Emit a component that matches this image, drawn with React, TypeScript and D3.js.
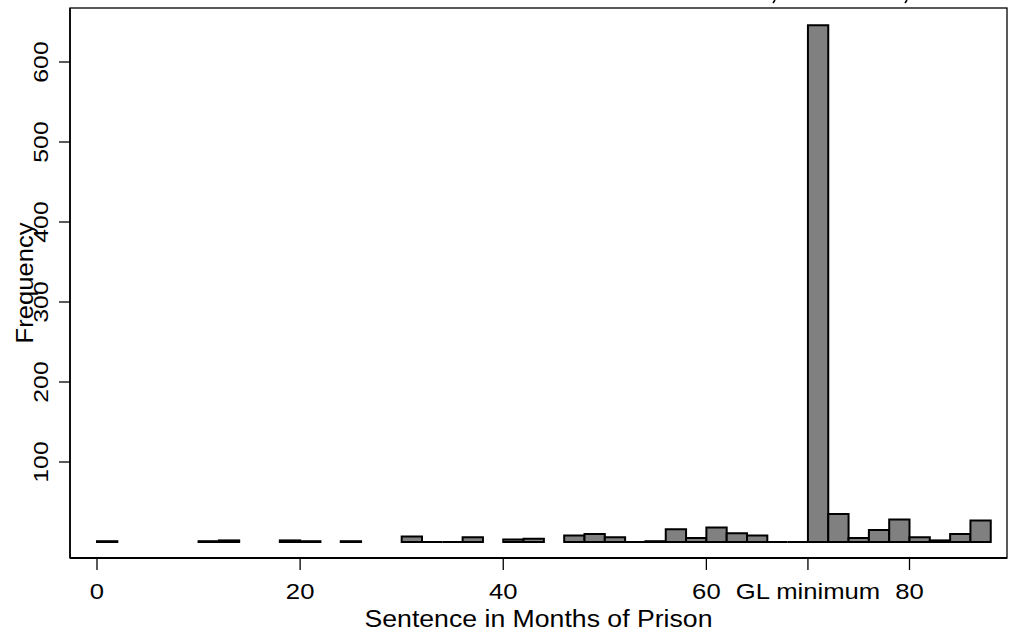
import React from 'react';
import * as d3 from "d3";

// histogram bins, width 2 months, starting at 0
const binStart = [0, 2, 4, 6, 8, 10, 12, 14, 16, 18, 20, 22, 24, 26, 28, 30, 32, 34, 36, 38, 40, 42,
    44, 46, 48, 50, 52, 54, 56, 58, 60, 62, 64, 66, 68, 70, 72, 74, 76, 78, 80, 82, 84, 86];
// null = no bar drawn, 0 = empty bin drawn as a flat line
const frequency = [1, null, null, null, null, 1, 2, null, null, 2, 1, null, 1, null, null, 7, 0, 0, 6, null, 3, 4,
    null, 8, 10, 6, 0, 1, 16, 5, 18, 11, 8, 0, 0, 646, 35, 5, 15, 28, 6, 2, 10, 27];
const binWidth = 2;

const xTicks = [0, 20, 40, 60, 70, 80];
const xTickLabels = ["0", "20", "40", "60", "GL minimum", "80"];
const yTicks = [100, 200, 300, 400, 500, 600];

const font = "Liberation Sans, Arial, sans-serif";

const App = () => {
    const width = 1013, height = 635;
    const left = 70, top = 8, right = 1007, bottom = 558;

    const x = d3.scaleLinear([0, 80], [97, 909.5]);
    const y = d3.scaleLinear([0, 600], [542, 62]);

    const bars = binStart
        .map((b, i) => ({b, v: frequency[i]}))
        .filter(d => d.v !== null);

    const barPath = (b, v) => {
        const x0 = x(b), x1 = x(b + binWidth), y0 = y(0), y1 = y(v);
        return `M${x0},${y0}V${y1}H${x1}V${y0}Z`;
    };

    return (
        <svg width={width} height={height}
             style={{position: 'absolute', left: 0, top: 0, background: 'white'}}>
            {/* tails of a cropped note above the graph */}
            <g stroke="black" strokeWidth="1.6" fill="none">
                <path d="M775,0 L773,3"/>
                <path d="M907,0 L905,3"/>
            </g>
            <rect x={left} y={top} width={right - left} height={bottom - top}
                  fill="none" stroke="black" strokeWidth="1.3"/>

            <g fill="#808080" stroke="black" strokeWidth="2" strokeLinejoin="miter">
                {bars.map((d, i) => <path key={i} d={barPath(d.b, d.v)}/>)}
            </g>

            {/* axes */}
            <line x1={left} x2={right} y1={bottom} y2={bottom} stroke="black" strokeWidth="1.8"/>
            <line x1={left} x2={left} y1={top} y2={bottom} stroke="black" strokeWidth="1.6"/>

            <g stroke="black" strokeWidth="1.3">
                {xTicks.map(t => <line key={t} x1={x(t)} x2={x(t)} y1={bottom} y2={bottom + 12}/>)}
                {yTicks.map(t => <line key={t} x1={left - 11} x2={left} y1={y(t)} y2={y(t)}/>)}
            </g>

            <g fontFamily={font} fontSize="22.5" textAnchor="middle" fill="black">
                {xTicks.map((t, i) =>
                    <text key={t} transform={`translate(${x(t)},599) scale(1.14,1)`}>{xTickLabels[i]}</text>)}
            </g>
            <g fontFamily={font} fontSize="21" textAnchor="middle" fill="black">
                {yTicks.map(t =>
                    <text key={t} transform={`translate(48,${y(t)}) rotate(-90) scale(1.18,1)`}>{t}</text>)}
            </g>

            <text x={538.5} y={627} fontFamily={font} fontSize="23" textAnchor="middle"
                  textLength="348" lengthAdjust="spacingAndGlyphs">
                Sentence in Months of Prison
            </text>
            <text transform={`translate(33,${(top + bottom) / 2}) rotate(-90)`}
                  fontFamily={font} fontSize="23" textAnchor="middle"
                  textLength="121" lengthAdjust="spacingAndGlyphs">
                Frequency
            </text>
        </svg>
    );
};

export default App;
